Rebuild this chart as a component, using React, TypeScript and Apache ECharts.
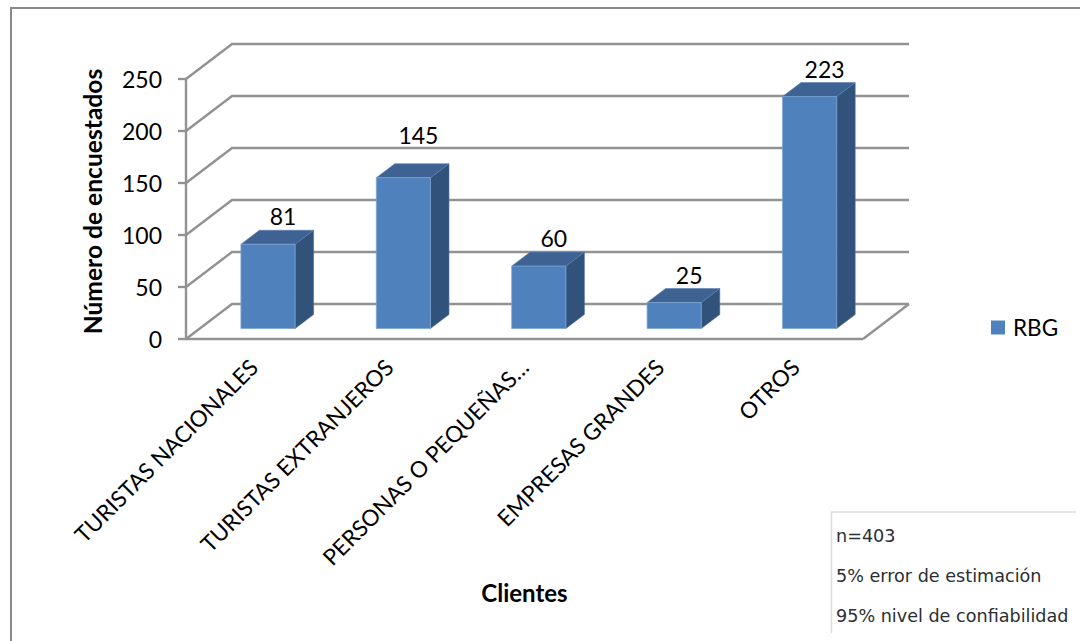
import React, { useEffect, useRef } from "react";
import * as echarts from "echarts";

const categories = [
  "TURISTAS NACIONALES",
  "TURISTAS EXTRANJEROS",
  "PERSONAS O PEQUEÑAS…",
  "EMPRESAS GRANDES",
  "OTROS",
];
const seriesName = "RBG";
const values = [81, 145, 60, 25, 223];
const yTicks = [0, 50, 100, 150, 200, 250];
const noteLines = ["n=403", "5% error de estimación", "95% nivel de confiabilidad"];

const FONT = "Lato";
const GRID_COLOR = "#929292";
const WALL_DX = 46;
const WALL_DY = 35;
const BAR_SHIFT_X = 14.3;
const BAR_SHIFT_Y = 10.5;
const BAR_DX = 18.5;
const BAR_DY = 14;
const BAR_RATIO = 0.4;

const wallItem = (params: any, api: any) => {
  const v = api.value(1);
  const band = api.size([1, 0])[0];
  const left = api.coord([0, v])[0] - band / 2;
  const right = api.coord([categories.length - 1, v])[0] + band / 2;
  const y = api.coord([0, v])[1];
  const lineStyle = { stroke: GRID_COLOR, lineWidth: 2.4, fill: "none" };
  const children: any[] = [
    {
      type: "polyline",
      shape: {
        points: [
          [left, y],
          [left + WALL_DX, y - WALL_DY],
          [right + WALL_DX, y - WALL_DY],
        ],
      },
      style: lineStyle,
    },
  ];
  if (v === 0) {
    children.push({
      type: "line",
      shape: { x1: right, y1: y, x2: right + WALL_DX, y2: y - WALL_DY },
      style: lineStyle,
    });
    children.push({
      type: "line",
      shape: { x1: left, y1: y, x2: right, y2: y },
      style: lineStyle,
    });
  }
  return { type: "group", children };
};

const barItem = (params: any, api: any) => {
  const i = api.value(0);
  const v = api.value(1);
  const band = api.size([1, 0])[0];
  const w = band * BAR_RATIO;
  const cx = api.coord([i, 0])[0] + BAR_SHIFT_X;
  const x0 = cx - w / 2;
  const x1 = cx + w / 2;
  const yb = api.coord([i, 0])[1] - BAR_SHIFT_Y;
  const yt = api.coord([i, v])[1] - BAR_SHIFT_Y;
  const lift = i === 1 ? 29 : 14;
  return {
    type: "group",
    children: [
      {
        type: "polygon",
        shape: {
          points: [
            [x1, yt],
            [x1 + BAR_DX, yt - BAR_DY],
            [x1 + BAR_DX, yb - BAR_DY],
            [x1, yb],
          ],
        },
        style: { fill: "#31527B", stroke: "#4a6c9c", lineWidth: 0.6 },
      },
      {
        type: "polygon",
        shape: {
          points: [
            [x0, yt],
            [x0 + BAR_DX, yt - BAR_DY],
            [x1 + BAR_DX, yt - BAR_DY],
            [x1, yt],
          ],
        },
        style: { fill: "#3E6393", stroke: "#5b80b3", lineWidth: 0.6 },
      },
      {
        type: "rect",
        shape: { x: x0, y: yt, width: w, height: yb - yt },
        style: { fill: "#4F81BD", stroke: "#7ea3d4", lineWidth: 0.8 },
      },
      {
        type: "text",
        style: {
          x: cx + 15,
          y: yt - BAR_DY - lift,
          text: String(v),
          fill: "#000",
          font: `23px ${FONT}`,
          textAlign: "center",
          textVerticalAlign: "middle",
        },
      },
    ],
  };
};

export default function App() {
  const ref = useRef<HTMLDivElement>(null);
  useEffect(() => {
    const chart = echarts.init(ref.current!, null, { renderer: "svg" });
    chart.setOption({
      animation: false,
      backgroundColor: "#fff",
      grid: { left: 186, top: 79, width: 677, height: 260 },
      legend: {
        data: [seriesName],
        left: 986,
        top: 311,
        icon: "rect",
        itemWidth: 14,
        itemHeight: 14,
        itemGap: 0,
        textStyle: { fontFamily: FONT, fontSize: 22.5, color: "#000", padding: [0, 0, 0, 3] },
      },
      xAxis: {
        type: "category",
        data: categories,
        name: "Clientes",
        nameLocation: "middle",
        nameGap: 241,
        nameTextStyle: { fontFamily: FONT, fontSize: 24, fontWeight: "bold", color: "#000" },
        axisLine: { show: false },
        axisTick: { show: false },
        axisLabel: {
          interval: 0,
          rotate: 45,
          margin: 24,
          fontFamily: FONT,
          fontSize: 22.5,
          color: "#000",
        },
      },
      yAxis: {
        type: "value",
        min: 0,
        max: 250,
        interval: 50,
        name: "Número de encuestados",
        nameLocation: "middle",
        nameGap: 81,
        nameRotate: 90,
        nameTextStyle: {
          fontFamily: FONT,
          fontSize: 24.6,
          fontWeight: "bold",
          color: "#000",
          padding: [0, 0, 0, 15],
        },
        splitLine: { show: false },
        axisLine: { show: true, lineStyle: { color: GRID_COLOR, width: 2.4 } },
        axisTick: { show: true, length: 8, lineStyle: { color: GRID_COLOR, width: 2.4 } },
        axisLabel: { margin: 24, fontFamily: FONT, fontSize: 23, color: "#000" },
      },
      series: [
        {
          type: "custom",
          name: "wall",
          z: 1,
          silent: true,
          renderItem: wallItem,
          encode: { x: 0, y: 1 },
          data: yTicks.map((t) => [0, t]),
        },
        {
          type: "custom",
          name: seriesName,
          z: 3,
          renderItem: barItem,
          itemStyle: { color: "#4F81BD" },
          encode: { x: 0, y: 1 },
          data: values.map((v, i) => [i, v]),
        },
      ],
      graphic: [
        {
          type: "polyline",
          silent: true,
          shape: { points: [[11, 641], [11, 8], [1080, 8]] },
          style: { stroke: "#8a8a8a", fill: "none", lineWidth: 2 },
        },
        {
          type: "polyline",
          silent: true,
          shape: { points: [[831.5, 633], [831.5, 512], [1076, 512]] },
          style: { stroke: "#dcdcdc", fill: "none", lineWidth: 1.5 },
        },
        ...noteLines.map((t, i) => ({
          type: "text",
          silent: true,
          style: {
            x: 836,
            y: 536 + i * 40,
            text: t,
            fill: "#2a2e33",
            font: `17.6px "DejaVu Sans"`,
            textAlign: "left",
            textVerticalAlign: "middle",
          },
        })),
      ],
    });
    return () => chart.dispose();
  }, []);
  return (
    <div
      ref={ref}
      style={{ position: "absolute", left: 0, top: 0, width: 1080, height: 641 }}
    />
  );
}
